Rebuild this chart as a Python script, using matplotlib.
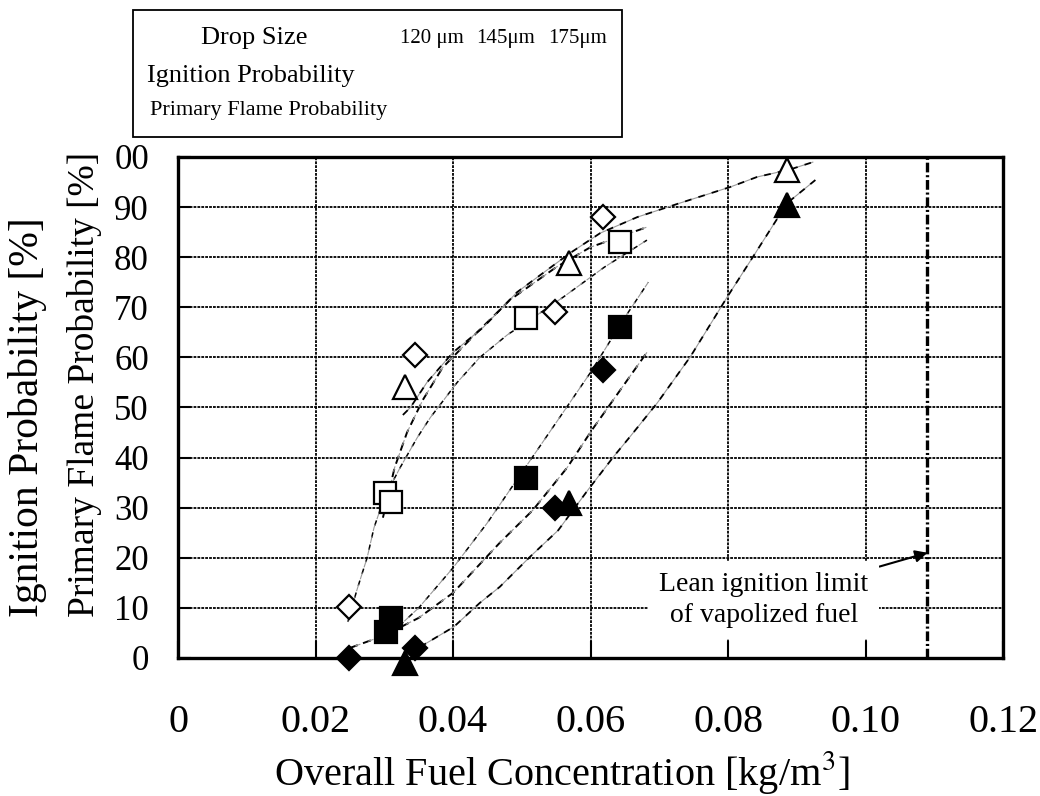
import matplotlib
matplotlib.use("Agg")
import matplotlib.pyplot as plt
from matplotlib.patches import Rectangle

plt.rcParams['font.family'] = ['Liberation Serif', 'DejaVu Serif']
plt.rcParams['mathtext.fontset'] = 'stix'
plt.rcParams['lines.scale_dashes'] = False

# -------------------------- Data --------------------------

drop_sizes = ["120 \u03bcm", "145\u03bcm", "175\u03bcm"]

# Ignition probability (open markers)
ign_120_x = [0.0249, 0.0345, 0.0548, 0.0618]
ign_120_y = [10.2, 60.5, 69.1, 88.0]
ign_145_x = [0.0301, 0.0310, 0.0506, 0.0643]
ign_145_y = [32.9, 31.1, 67.9, 83.0]
ign_175_x = [0.0330, 0.0569, 0.0886]
ign_175_y = [54.1, 78.8, 97.4]

# Primary flame probability (filled markers)
pf_120_x = [0.0249, 0.0345, 0.0548, 0.0618]
pf_120_y = [0.0, 2.0, 29.9, 57.5]
pf_145_x = [0.0302, 0.0310, 0.0506, 0.0643]
pf_145_y = [5.2, 8.0, 35.9, 66.1]
pf_175_x = [0.0330, 0.0569, 0.0886]
pf_175_y = [-1.0, 30.9, 90.4]

# Trend curves as drawn in the figure
fit_ign_120_x = [0.0247, 0.0260, 0.0275, 0.0285, 0.0300, 0.0323, 0.0348, 0.0367,
                 0.0406, 0.0439, 0.0479, 0.0512, 0.0560, 0.0620, 0.0682]
fit_ign_120_y = [7.2, 13.5, 20.0, 26.0, 32.0, 38.0, 44.0, 48.0,
                 55.0, 60.0, 64.5, 67.5, 72.0, 78.0, 83.4]
fit_ign_145_x = [0.0298, 0.0315, 0.0333, 0.0356, 0.0385, 0.0435, 0.0483, 0.0550, 0.0600, 0.0682]
fit_ign_145_y = [28.0, 38.0, 45.0, 51.5, 58.0, 65.0, 71.5, 78.0, 82.0, 86.0]
fit_ign_175_x = [0.0327, 0.0338, 0.0362, 0.0400, 0.0444, 0.0493, 0.0570, 0.0614,
                 0.0668, 0.0730, 0.0803, 0.0842, 0.0890, 0.0924]
fit_ign_175_y = [48.5, 50.0, 55.0, 61.0, 66.0, 73.0, 80.8, 84.8,
                 88.0, 90.8, 94.0, 96.0, 97.5, 99.0]

fit_pf_120_x = [0.0250, 0.0300, 0.0350, 0.0400, 0.0468, 0.0516, 0.0566, 0.0602, 0.0682]
fit_pf_120_y = [2.0, 4.5, 8.0, 13.0, 23.0, 29.5, 38.0, 45.5, 61.0]
fit_pf_145_x = [0.0295, 0.0350, 0.0400, 0.0450, 0.0500, 0.0550, 0.0600, 0.0650, 0.0684]
fit_pf_145_y = [3.0, 10.0, 18.0, 27.0, 37.0, 47.0, 57.0, 68.0, 75.0]
fit_pf_175_x = [0.0352, 0.0401, 0.0439, 0.0468, 0.0512, 0.0553, 0.0596, 0.0633,
                0.0657, 0.0697, 0.0745, 0.0799, 0.0835, 0.0886, 0.0927]
fit_pf_175_y = [2.2, 6.2, 11.0, 14.2, 20.2, 25.5, 33.5, 40.1,
                44.1, 50.9, 60.1, 72.1, 79.8, 90.8, 95.4]

lean_limit_x = 0.109
lean_arrow_y = 21.0

x_ticks = [0.0, 0.02, 0.04, 0.06, 0.08, 0.10, 0.12]
x_tick_labels = ["0", "0.02", "0.04", "0.06", "0.08", "0.10", "0.12"]
y_ticks = [0, 10, 20, 30, 40, 50, 60, 70, 80, 90, 100]
y_tick_labels = ["0", "10", "20", "30", "40", "50", "60", "70", "80", "90", "00"]

# -------------------------- Figure --------------------------

fig = plt.figure(figsize=(10.4, 7.96), dpi=100)
ax = fig.add_axes([0.1712, 0.1734, 0.7933, 0.6294])

ax.set_xlim(0, 0.12)
ax.set_ylim(0, 100)
ax.set_axisbelow(True)
ax.grid(True, color='black', lw=1.3, linestyle=(0, (2, 0.8)))


def trend(x, y, on=5, off=4, lw=1.3):
    # black dashes with grey filling the gaps, like the printed trendlines
    ax.plot(x, y, color='black', lw=lw, linestyle=(0, (on, off)), zorder=2)
    ax.plot(x, y, color='0.6', lw=0.8, linestyle=(on, (off, on)), zorder=2)


trend(fit_ign_120_x, fit_ign_120_y, 4, 5, 1.1)
trend(fit_ign_145_x, fit_ign_145_y, 6, 4, 1.4)
trend(fit_ign_175_x, fit_ign_175_y, 5, 5, 1.3)
trend(fit_pf_120_x, fit_pf_120_y, 6, 4, 1.4)
trend(fit_pf_145_x, fit_pf_145_y, 4, 5, 1.1)
trend(fit_pf_175_x, fit_pf_175_y, 5, 5, 1.3)

ax.axvline(lean_limit_x, color='black', lw=2.4, linestyle=(0, (7, 2, 1.5, 2)), zorder=3)

mk = dict(linestyle='none', mec='black', mew=1.6, clip_on=False, zorder=5)
ax.plot(ign_120_x, ign_120_y, marker='D', ms=12.5, mfc='white', **mk)
ax.plot(ign_145_x, ign_145_y, marker='s', ms=16, mfc='white', **mk)
ax.plot(ign_175_x, ign_175_y, marker='^', ms=17, mfc='white', **mk)
ax.plot(pf_120_x, pf_120_y, marker='D', ms=12.5, mfc='black', **mk)
ax.plot(pf_145_x, pf_145_y, marker='s', ms=16, mfc='black', **mk)
ax.plot(pf_175_x, pf_175_y, marker='^', ms=17, mfc='black', **mk)

ax.annotate("Lean ignition limit\nof vapolized fuel",
            xy=(lean_limit_x, lean_arrow_y), xytext=(0.0852, 11.6),
            ha='center', va='center', fontsize=20, linespacing=1.3, zorder=4,
            bbox=dict(boxstyle='square,pad=0.4', fc='white', ec='none'),
            arrowprops=dict(arrowstyle='-|>', color='black', lw=1.5,
                            mutation_scale=18, shrinkA=0, shrinkB=0))

for side in ['left', 'right', 'top', 'bottom']:
    ax.spines[side].set_linewidth(2.4)

ax.set_xticks(x_ticks)
ax.set_xticklabels(x_tick_labels)
ax.set_yticks(y_ticks)
ax.set_yticklabels(y_tick_labels)
ax.tick_params(axis='x', direction='in', length=12, width=1.5, pad=33, labelsize=29, top=False)
ax.tick_params(axis='y', direction='in', length=9, width=1.5, pad=21, labelsize=25, right=False)

fig.text(562 / 1040, 1 - 772 / 796, "Overall Fuel Concentration [kg/m$^{3}$]",
         ha='center', va='center', fontsize=29)
fig.text(28 / 1040, 1 - 617 / 796, "Ignition Probability [%]",
         rotation=90, ha='center', va='bottom', fontsize=30)
fig.text(85 / 1040, 1 - 617 / 796, "Primary Flame Probability [%]",
         rotation=90, ha='center', va='bottom', fontsize=27)

# -------------------------- Legend box (markers lost in the original) --------------------------

fig.patches.append(Rectangle((133 / 1040, 1 - 137 / 796), (622 - 133) / 1040, 127 / 796,
                             transform=fig.transFigure, fill=False, lw=1.3, ec='black'))
fig.text(254 / 1040, 1 - 38 / 796, "Drop Size", ha='center', va='center', fontsize=19)
for label, lx in zip(drop_sizes, [400, 476, 548]):
    fig.text(lx / 1040, 1 - 38 / 796, label, ha='left', va='center', fontsize=15)
fig.text(147 / 1040, 1 - 76 / 796, "Ignition Probability", ha='left', va='center', fontsize=19)
fig.text(150 / 1040, 1 - 110 / 796, "Primary Flame Probability", ha='left', va='center', fontsize=16)

fig.savefig("out.png", dpi=100)
